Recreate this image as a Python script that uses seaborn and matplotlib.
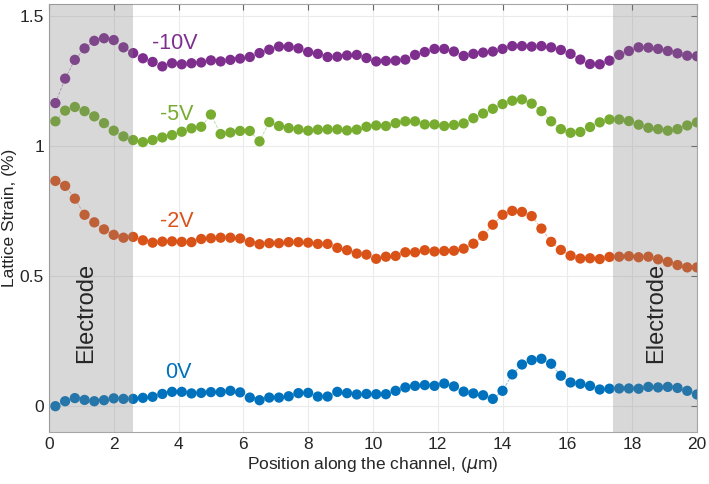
import numpy as np
import pandas as pd
import matplotlib
matplotlib.use("Agg")
import matplotlib.pyplot as plt
import seaborn as sns

# positions along the channel (um)
position = [round(0.2 + 0.3 * i, 1) for i in range(67)]

strain_10v = [1.164, 1.258, 1.330, 1.374, 1.403, 1.413, 1.406, 1.378, 1.356, 1.336,
              1.322, 1.305, 1.317, 1.313, 1.317, 1.320, 1.328, 1.324, 1.330, 1.335,
              1.341, 1.356, 1.369, 1.381, 1.380, 1.374, 1.360, 1.353, 1.341, 1.342,
              1.347, 1.349, 1.337, 1.324, 1.326, 1.327, 1.331, 1.349, 1.360, 1.372,
              1.372, 1.362, 1.345, 1.353, 1.358, 1.362, 1.372, 1.383, 1.383, 1.381,
              1.383, 1.378, 1.368, 1.353, 1.331, 1.314, 1.313, 1.327, 1.349, 1.364,
              1.378, 1.377, 1.372, 1.364, 1.355, 1.346, 1.344]

strain_5v = [1.094, 1.135, 1.149, 1.133, 1.113, 1.087, 1.058, 1.036, 1.022, 1.014,
             1.022, 1.032, 1.041, 1.054, 1.067, 1.073, 1.120, 1.045, 1.051, 1.057,
             1.057, 1.017, 1.091, 1.076, 1.068, 1.063, 1.058, 1.062, 1.063, 1.063,
             1.059, 1.062, 1.073, 1.078, 1.076, 1.087, 1.094, 1.094, 1.082, 1.082,
             1.076, 1.080, 1.086, 1.106, 1.124, 1.142, 1.160, 1.173, 1.178, 1.162,
             1.133, 1.094, 1.064, 1.050, 1.053, 1.072, 1.090, 1.101, 1.101, 1.095,
             1.081, 1.069, 1.064, 1.058, 1.064, 1.078, 1.090]

strain_2v = [0.865, 0.846, 0.797, 0.735, 0.706, 0.679, 0.658, 0.647, 0.650, 0.637,
             0.628, 0.632, 0.633, 0.631, 0.630, 0.642, 0.645, 0.647, 0.647, 0.644,
             0.630, 0.622, 0.626, 0.626, 0.630, 0.630, 0.628, 0.623, 0.623, 0.608,
             0.599, 0.586, 0.582, 0.566, 0.574, 0.577, 0.591, 0.591, 0.599, 0.594,
             0.596, 0.597, 0.605, 0.624, 0.654, 0.697, 0.735, 0.750, 0.746, 0.730,
             0.682, 0.631, 0.600, 0.578, 0.567, 0.568, 0.565, 0.573, 0.574, 0.576,
             0.572, 0.574, 0.564, 0.554, 0.542, 0.533, 0.533]

strain_0v = [0.000, 0.019, 0.031, 0.024, 0.019, 0.023, 0.030, 0.028, 0.028, 0.032,
             0.036, 0.047, 0.055, 0.055, 0.049, 0.051, 0.054, 0.054, 0.059, 0.053,
             0.033, 0.023, 0.033, 0.033, 0.038, 0.050, 0.051, 0.037, 0.037, 0.055,
             0.050, 0.045, 0.047, 0.046, 0.046, 0.059, 0.072, 0.078, 0.081, 0.078,
             0.087, 0.076, 0.056, 0.049, 0.042, 0.028, 0.059, 0.122, 0.160, 0.177,
             0.182, 0.163, 0.117, 0.091, 0.086, 0.078, 0.064, 0.067, 0.068, 0.068,
             0.067, 0.074, 0.072, 0.074, 0.070, 0.059, 0.045]

voltages = ["0V", "-2V", "-5V", "-10V"]
colors = ["#0072BD", "#D95319", "#77AC30", "#7E2F8E"]
series = [strain_0v, strain_2v, strain_5v, strain_10v]

df = pd.concat([pd.DataFrame({"pos": position, "strain": s, "V": v})
                for s, v in zip(series, voltages)], ignore_index=True)

sns.set_style("white")
plt.rcParams['font.family'] = ['Liberation Sans', 'DejaVu Sans']

fig = plt.figure(figsize=(7.09, 4.84), dpi=100)
ax = fig.add_axes([0.069, 0.107, 0.914, 0.885])

pal = dict(zip(voltages, colors))
sns.lineplot(data=df, x="pos", y="strain", hue="V", palette=pal, ax=ax,
             lw=0.6, ls="--", alpha=0.5, legend=False, zorder=2)
sns.scatterplot(data=df, x="pos", y="strain", hue="V", palette=pal, ax=ax,
                s=55, linewidth=0, legend=False, zorder=3)

# electrode regions
ax.axvspan(0, 2.6, color="0.5", alpha=0.3, lw=0, zorder=4)
ax.axvspan(17.4, 20, color="0.5", alpha=0.3, lw=0, zorder=4)

ax.text(1.14, 0.358, "Electrode", rotation=90, fontsize=17, ha="center", va="center", zorder=5)
ax.text(18.73, 0.358, "Electrode", rotation=90, fontsize=17, ha="center", va="center", zorder=5)

label_pos = {"-10V": (3.89, 1.392), "-5V": (3.94, 1.12), "-2V": (3.94, 0.708), "0V": (3.98, 0.131)}
for v, c in zip(voltages, colors):
    x, y = label_pos[v]
    ax.text(x, y, v, color=c, fontsize=15.5, ha="center", va="center", zorder=5)

ax.set_xlim(0, 20)
ax.set_ylim(-0.1, 1.545)
ax.set_xticks(range(0, 21, 2))
ax.set_yticks([0, 0.5, 1, 1.5])
ax.set_yticklabels(["0", "0.5", "1", "1.5"])
ax.grid(True, color="0.92", lw=0.8)
ax.set_axisbelow(True)
for sp in ax.spines.values():
    sp.set_color("0.65")
    sp.set_linewidth(0.8)
ax.tick_params(direction="in", length=4, color="0.4", labelsize=12.5, labelcolor="0.15",
               top=True, right=True)
ax.set_xlabel(r"Position along the channel, ($\mu$m)", fontsize=12.5, color="0.15", labelpad=2)
ax.set_ylabel("Lattice Strain, (%)", fontsize=12.5, color="0.15", labelpad=2)

fig.savefig("out.png", dpi=100)
